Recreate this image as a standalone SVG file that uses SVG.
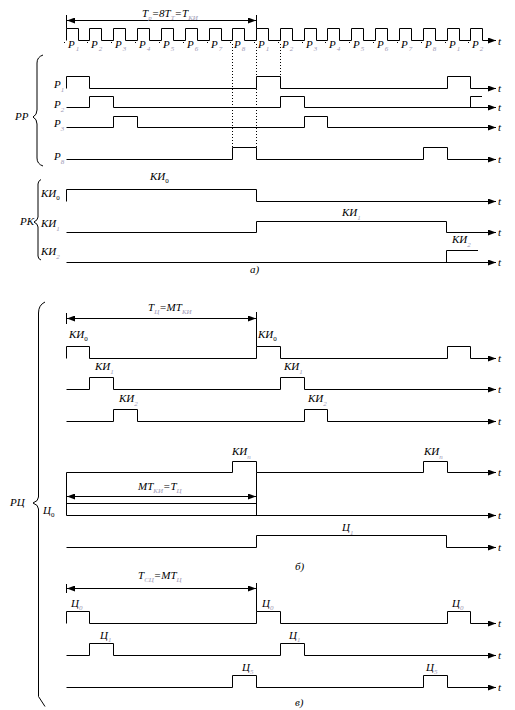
<svg xmlns="http://www.w3.org/2000/svg" width="515" height="710" viewBox="0 0 515 710">
<style>
.ln{stroke:#000;stroke-width:1;fill:none}
.ax{stroke:#000;stroke-width:1;fill:none;marker-end:url(#ar)}
.dm{stroke:#000;stroke-width:1;fill:none;marker-start:url(#da);marker-end:url(#da)}
.dt{stroke:#000;stroke-width:1;fill:none;stroke-dasharray:1,2}
text{font-family:"Liberation Serif",serif;font-style:italic;font-size:11px;fill:#000}
.s{font-size:7px;fill:#9c98b4}
.z{font-size:7px;fill:#000;font-style:normal}
</style>
<defs>
<marker id="ar" viewBox="0 0 8 6" refX="8" refY="3" markerWidth="8" markerHeight="6" orient="auto" markerUnits="userSpaceOnUse"><path d="M0,0L8,3L0,6z" fill="#000"/></marker>
<marker id="da" viewBox="0 0 8 6" refX="8" refY="3" markerWidth="8" markerHeight="6" orient="auto-start-reverse" markerUnits="userSpaceOnUse"><path d="M0,0L8,3L0,6z" fill="#000"/></marker>
</defs>

<g id="connectors">
<!-- clock -->
<path class="ax" d="M66.5,40.5 V28.5 H78.5 V40.5 H89.5 V28.5 H101.5 V40.5 H113.5 V28.5 H125.5 V40.5 H137.5 V28.5 H149.5 V40.5 H161.5 V28.5 H173.5 V40.5 H185.5 V28.5 H197.5 V40.5 H209.5 V28.5 H221.5 V40.5 H232.5 V28.5 H244.5 V40.5 H256.5 V28.5 H268.5 V40.5 H280.5 V28.5 H292.5 V40.5 H304.5 V28.5 H316.5 V40.5 H327.5 V28.5 H339.5 V40.5 H351.5 V28.5 H363.5 V40.5 H375.5 V28.5 H387.5 V40.5 H399.5 V28.5 H411.5 V40.5 H423.5 V28.5 H435.5 V40.5 H447.5 V28.5 H459.5 V40.5 H470.5 V28.5 H482.5 V40.5 H496"/>
<path class="ln" d="M66.5,15 V28.5 M256.5,15 V28.5"/>
<path class="dm" d="M67,20.5 H256"/>
<!-- dotted -->
<path class="dt" d="M232.5,44 V147 M256.5,44 V147 M280.5,44 V76"/>
<!-- RR -->
<path class="ax" d="M66.5,88.5 V76.5 H89.5 V88.5 H256.5 V76.5 H280.5 V88.5 H447.5 V76.5 H470.5 V88.5 H496"/>
<path class="ax" d="M66.5,107.5 H89.5 V96.5 H113.5 V107.5 H280.5 V96.5 H304.5 V107.5 H496"/>
<path class="ln" d="M470.5,107.5 V96.5 H482"/>
<path class="ax" d="M66.5,127.5 H113.5 V116.5 H137.5 V127.5 H304.5 V116.5 H327.5 V127.5 H496"/>
<path class="ax" d="M66.5,159.5 H232.5 V147.5 H256.5 V159.5 H423.5 V147.5 H447.5 V159.5 H496"/>
<!-- RK -->
<path class="ax" d="M66.5,201.5 V189.5 H256.5 V201.5 H496"/>
<path class="ax" d="M66.5,232.5 H256.5 V221.5 H446.5 V232.5 H496"/>
<path class="ax" d="M66.5,262.5 H496"/>
<path class="ln" d="M446.5,262.5 V250.5 H478"/>
<!-- b -->
<path class="ln" d="M66.5,313 V324 M256.5,312 V346.5"/>
<path class="dm" d="M67,318.5 H256"/>
<path class="ax" d="M66.5,358.5 V346.5 H89.5 V358.5 H256.5 V346.5 H280.5 V358.5 H447.5 V346.5 H470.5 V358.5 H496"/>
<path class="ax" d="M66.5,389.5 H89.5 V377.5 H113.5 V389.5 H280.5 V377.5 H304.5 V389.5 H496"/>
<path class="ax" d="M66.5,421.5 H113.5 V409.5 H137.5 V421.5 H304.5 V409.5 H327.5 V421.5 H496"/>
<path class="ax" d="M66.5,472.5 H232.5 V461.5 H256.5 V472.5 H423.5 V461.5 H447.5 V472.5 H496"/>
<path class="ln" d="M66.5,472.5 V515.5 M256.5,472.5 V515.5 M66.5,503.5 H256.5"/>
<path class="dm" d="M67,496.5 H256"/>
<path class="ax" d="M66.5,515.5 H496"/>
<path class="ax" d="M66.5,547.5 H256.5 V535.5 H446.5 V547.5 H496"/>
<!-- v -->
<path class="ln" d="M66.5,584 V593 M256.5,583 V611.5"/>
<path class="dm" d="M67,588.5 H256"/>
<path class="ax" d="M66.5,623.5 V611.5 H89.5 V623.5 H256.5 V611.5 H280.5 V623.5 H447.5 V611.5 H470.5 V623.5 H496"/>
<path class="ax" d="M66.5,655.5 H89.5 V643.5 H113.5 V655.5 H280.5 V643.5 H304.5 V655.5 H496"/>
<path class="ax" d="M66.5,687.5 H232.5 V675.5 H256.5 V687.5 H423.5 V675.5 H447.5 V687.5 H496"/>
<!-- braces -->
<path class="ln" d="M43,55 Q37,57 37,63 V110 Q37,115 33,117 Q37,119 37,124 V158 Q37,164 43,166"/>
<path class="ln" d="M41,179.5 Q38,181 38,184 V217 Q38,220 34,222 Q38,224 38,227 V256 Q38,259 41,260"/>
<path class="ln" d="M45,302 Q38.5,305 38.5,313 V497 Q38.5,501 33,503 Q38.5,505 38.5,509 V696.5 L45,706.5"/>
</g>

<g id="clock-labels">
<text x="142" y="17">T<tspan class="s" dy="3">р</tspan><tspan dy="-3">=8T</tspan><tspan class="s" dy="3">Т</tspan><tspan dy="-3">=T</tspan><tspan class="s" dy="3">КИ</tspan></text>
<g fill="#000">
<rect x="64" y="42" width="1" height="1"/><rect x="87" y="42" width="1" height="1"/><rect x="111" y="42" width="1" height="1"/><rect x="135" y="42" width="1" height="1"/><rect x="159" y="42" width="1" height="1"/><rect x="183" y="42" width="1" height="1"/><rect x="207" y="42" width="1" height="1"/><rect x="230" y="42" width="1" height="1"/><rect x="254" y="42" width="1" height="1"/><rect x="278" y="42" width="1" height="1"/><rect x="302" y="42" width="1" height="1"/><rect x="325" y="42" width="1" height="1"/><rect x="349" y="42" width="1" height="1"/><rect x="373" y="42" width="1" height="1"/><rect x="397" y="42" width="1" height="1"/><rect x="421" y="42" width="1" height="1"/><rect x="445" y="42" width="1" height="1"/><rect x="468" y="42" width="1" height="1"/>
</g>
<text x="68" y="48">P<tspan class="s" dx="1" dy="3">1</tspan></text>
<text x="91" y="48">P<tspan class="s" dx="1" dy="3">2</tspan></text>
<text x="115" y="48">P<tspan class="s" dx="1" dy="3">3</tspan></text>
<text x="139" y="48">P<tspan class="s" dx="1" dy="3">4</tspan></text>
<text x="163" y="48">P<tspan class="s" dx="1" dy="3">5</tspan></text>
<text x="187" y="48">P<tspan class="s" dx="1" dy="3">6</tspan></text>
<text x="211" y="48">P<tspan class="s" dx="1" dy="3">7</tspan></text>
<text x="234" y="48">P<tspan class="s" dx="1" dy="3">8</tspan></text>
<text x="258" y="48">P<tspan class="s" dx="1" dy="3">1</tspan></text>
<text x="282" y="48">P<tspan class="s" dx="1" dy="3">2</tspan></text>
<text x="306" y="48">P<tspan class="s" dx="1" dy="3">3</tspan></text>
<text x="329" y="48">P<tspan class="s" dx="1" dy="3">4</tspan></text>
<text x="353" y="48">P<tspan class="s" dx="1" dy="3">5</tspan></text>
<text x="377" y="48">P<tspan class="s" dx="1" dy="3">6</tspan></text>
<text x="401" y="48">P<tspan class="s" dx="1" dy="3">7</tspan></text>
<text x="425" y="48">P<tspan class="s" dx="1" dy="3">8</tspan></text>
<text x="449" y="48">P<tspan class="s" dx="1" dy="3">1</tspan></text>
<text x="472" y="48">P<tspan class="s" dx="1" dy="3">2</tspan></text>
</g>

<g id="rr-labels">
<text x="15" y="120">PP</text>
<text x="54" y="88">P<tspan class="s" dy="4">1</tspan></text>
<text x="54" y="107.5">P<tspan class="s" dy="4">2</tspan></text>
<text x="54" y="127">P<tspan class="s" dy="4">3</tspan></text>
<text x="54" y="159.5">P<tspan class="s" dy="4">8</tspan></text>
</g>

<g id="rk-labels">
<text x="20" y="225">РК</text>
<text x="41" y="197">КИ<tspan class="z" dy="3">0</tspan></text>
<text x="41" y="227">КИ<tspan class="s" dy="4">1</tspan></text>
<text x="41" y="255">КИ<tspan class="s" dy="4">2</tspan></text>
<text x="150" y="180">КИ<tspan class="z" dy="3">0</tspan></text>
<text x="342" y="216">КИ<tspan class="s" dy="4">1</tspan></text>
<text x="452" y="243">КИ<tspan class="s" dy="4">2</tspan></text>
<text x="250" y="273">а)</text>
</g>

<g id="b-labels">
<text x="148" y="311">T<tspan class="s" dy="3">Ц</tspan><tspan dy="-3">=MT</tspan><tspan class="s" dy="3">КИ</tspan></text>
<text x="69" y="338">КИ<tspan class="z" dy="3">0</tspan></text>
<text x="258" y="338">КИ<tspan class="z" dy="3">0</tspan></text>
<text x="95" y="370">КИ<tspan class="s" dy="4">1</tspan></text>
<text x="284" y="370">КИ<tspan class="s" dy="4">1</tspan></text>
<text x="119" y="402">КИ<tspan class="s" dy="4">2</tspan></text>
<text x="308" y="402">КИ<tspan class="s" dy="4">2</tspan></text>
<text x="232" y="455">КИ<tspan class="s" dy="4">n</tspan></text>
<text x="424" y="455">КИ<tspan class="s" dy="4">n</tspan></text>
<text x="138" y="489.5">MT<tspan class="s" dy="3">КИ</tspan><tspan dy="-3">=T</tspan><tspan class="s" dy="3">Ц</tspan></text>
<text x="10" y="506">РЦ</text>
<text x="43" y="513.5">Ц<tspan class="z" dy="3">0</tspan></text>
<text x="342" y="530.5">Ц<tspan class="s" dy="4">1</tspan></text>
<text x="295" y="570">б)</text>
</g>

<g id="v-labels">
<text x="138" y="579">T<tspan class="s" dy="3">СЦ</tspan><tspan dy="-3">=MT</tspan><tspan class="s" dy="3">Ц</tspan></text>
<text x="71" y="607">Ц<tspan class="s" dy="3">0</tspan></text>
<text x="262" y="607">Ц<tspan class="s" dy="3">0</tspan></text>
<text x="452" y="607">Ц<tspan class="s" dy="3">0</tspan></text>
<text x="100" y="638.5">Ц<tspan class="s" dy="3">1</tspan></text>
<text x="289" y="638.5">Ц<tspan class="s" dy="3">1</tspan></text>
<text x="242" y="671">Ц<tspan class="s" dy="3">5</tspan></text>
<text x="426" y="671">Ц<tspan class="s" dy="3">5</tspan></text>
<text x="295" y="706">в)</text>
</g>

<g id="t-labels">
<text x="498" y="44.5">t</text>
<text x="498" y="92">t</text>
<text x="498" y="111">t</text>
<text x="498" y="131">t</text>
<text x="498" y="163">t</text>
<text x="498" y="205">t</text>
<text x="498" y="236">t</text>
<text x="498" y="266">t</text>
<text x="498" y="362">t</text>
<text x="498" y="393">t</text>
<text x="498" y="425">t</text>
<text x="498" y="476">t</text>
<text x="498" y="519">t</text>
<text x="498" y="551">t</text>
<text x="498" y="627">t</text>
<text x="498" y="659">t</text>
<text x="498" y="691">t</text>
</g>
</svg>
